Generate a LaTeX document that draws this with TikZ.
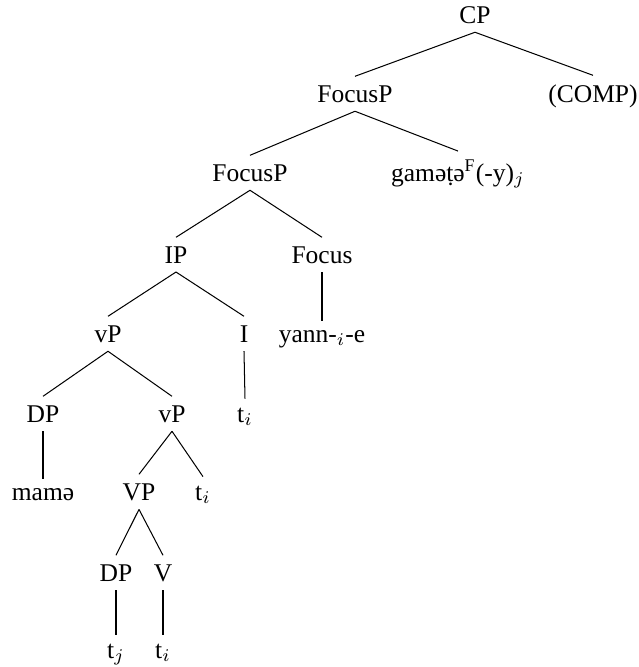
\documentclass[tikz,border=0pt]{standalone}
\usepackage{fontspec}
\setmainfont{Liberation Serif}
\usetikzlibrary{positioning}
\tikzset{
    % Category label style
    category/.style={
        anchor=base,
        inner sep=3.33pt,
        font=\fontsize{10}{12}\selectfont
    },
    % Branch style
    branch/.style={
        line width=0.4pt,
        color=black
    }
}

\begin{document}
\begin{tikzpicture}[x=0.392pt, y=-0.392pt]
        \useasboundingbox (0,0) rectangle (639,667);

        % Top of the tree
        \node[category] (cp) at (475, 23) {CP};
        \node[category] (focusp) at (355, 102) {FocusP};
        \node[category] (comp) at (593, 102) {(COMP)};

        % Focus phrase
        \node[category] (focuspb) at (250, 181) {FocusP};
        \node[category] (gamete) at (458, 181) {gaməṭə\textsuperscript{F}(-y)$_j$};
        \node[category] (ip) at (176, 263) {IP};
        \node[category] (focus) at (322, 263) {Focus};

        % Inflection
        \node[category] (vp) at (108, 342) {vP};
        \node[category] (infl) at (244, 342) {I};
        \node[category] (yanne) at (322, 342) {yann-$_i$-e};

        % Little v shell
        \node[category] (dp) at (43, 422) {DP};
        \node[category] (vpb) at (172, 422) {vP};
        \node[category] (tinfl) at (245, 422) {t$_i$};
        \node[category] (mama) at (43, 500) {mamə};
        \node[category] (bigvp) at (139, 500) {VP};
        \node[category] (tvp) at (203, 500) {t$_i$};

        % Verb phrase
        \node[category] (dpb) at (116, 581) {DP};
        \node[category] (verb) at (163, 581) {V};
        \node[category] (tobj) at (116, 658) {t$_j$};
        \node[category] (tverb) at (163, 658) {t$_i$};

        % Branches
        \draw[branch] (cp.south) -- (focusp.north);
        \draw[branch] (cp.south) -- (comp.north);
        \draw[branch] (focusp.south) -- (focuspb.north);
        \draw[branch] (focusp.south) -- (gamete.north);
        \draw[branch] (focuspb.south) -- (ip.north);
        \draw[branch] (focuspb.south) -- (focus.north);
        \draw[branch] (ip.south) -- (vp.north);
        \draw[branch] (ip.south) -- (infl.north);
        \draw[branch] (focus.south) -- (yanne.north);
        \draw[branch] (vp.south) -- (dp.north);
        \draw[branch] (vp.south) -- (vpb.north);
        \draw[branch] (infl.south) -- (tinfl.north);
        \draw[branch] (dp.south) -- (mama.north);
        \draw[branch] (vpb.south) -- (bigvp.north);
        \draw[branch] (vpb.south) -- (tvp.north);
        \draw[branch] (bigvp.south) -- (dpb.north);
        \draw[branch] (bigvp.south) -- (verb.north);
        \draw[branch] (dpb.south) -- (tobj.north);
        \draw[branch] (verb.south) -- (tverb.north);

    \end{tikzpicture}
\end{document}
